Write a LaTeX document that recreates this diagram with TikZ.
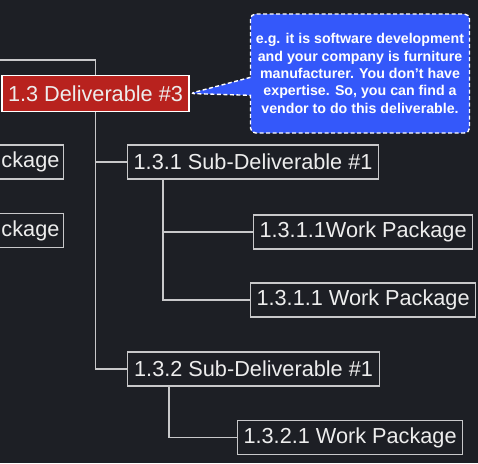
\documentclass[tikz,border=0pt]{standalone}
\usepackage{fontspec}
\setmainfont{Liberation Sans}
\usetikzlibrary{shapes.callouts}
\definecolor{Board}{RGB}{29,31,37}
\definecolor{Wire}{RGB}{200,200,202}
\definecolor{DelRed}{RGB}{184,34,30}
\definecolor{NoteBlue}{RGB}{52,88,250}
\begin{document}
\begin{tikzpicture}[x=1pt,y=-1pt,
	wbs/.style={draw=Wire,line width=1.2pt,text=white!93!black,inner sep=0pt,
		minimum height=34pt,font=\fontsize{21.7}{24}\selectfont},
	link/.style={draw=Wire,line width=1.2pt},
	note/.style={rectangle callout,fill=NoteBlue,draw=white,dash pattern=on 4pt off 2.5pt,
		line width=1.4pt,rounded corners=5pt,text=white,align=center,inner sep=0pt,
		minimum width=219pt,minimum height=119pt,callout pointer width=18pt,
		font=\fontsize{14.2}{17.3}\selectfont\bfseries}]
%% Background
\fill[Board] (0,0) rectangle (478,463);
\useasboundingbox (0,0) rectangle (478,463);
\clip (0,0) rectangle (478,463);

%% Deliverable
\node[wbs,fill=DelRed,draw=white,line width=1.5pt,minimum width=187pt,minimum height=36pt]
	(del) at (95.5,93.5) {1.3 Deliverable \#3};
\coordinate (up) at (0,60);
\draw[link] (up) -| (del.north);

%% Neighbours, cut at the left edge
\node[wbs,anchor=east,text width=90pt,align=right,inner xsep=4pt] (pkgA) at (64,162) {ckage};
\node[wbs,anchor=east,text width=90pt,align=right,inner xsep=4pt] (pkgB) at (64,230.5) {ckage};

%% Sub-deliverables
\node[wbs,anchor=west,minimum width=251pt] (sub1) at (127,162) {1.3.1 Sub-Deliverable \#1};
\node[wbs,anchor=west,minimum width=252pt] (sub2) at (127,369) {1.3.2 Sub-Deliverable \#1};
\draw[link] (del.south) |- (sub1.west);
\draw[link] (del.south) |- (sub2.west);

%% Work packages
\node[wbs,anchor=west,minimum width=219pt] (wp1) at (253,232) {1.3.1.1Work Package};
\node[wbs,anchor=west,minimum width=225pt] (wp2) at (250,300) {1.3.1.1 Work Package};
\node[wbs,anchor=west,minimum width=225pt] (wp3) at (237,437.5) {1.3.2.1 Work Package};
\draw[link] ([xshift=36pt]sub1.south west) |- (wp1.west);
\draw[link] ([xshift=36pt]sub1.south west) |- (wp2.west);
\draw[link] ([xshift=42pt]sub2.south west) |- (wp3.west);

%% Note
\node[note,callout absolute pointer={(del.east)}] (memo) at (360,73.5)
	{e.g. it is software development\\and your company is furniture\\manufacturer. You don't have\\expertise. So, you can find a\\vendor to do this deliverable.};
\end{tikzpicture}
\end{document}
